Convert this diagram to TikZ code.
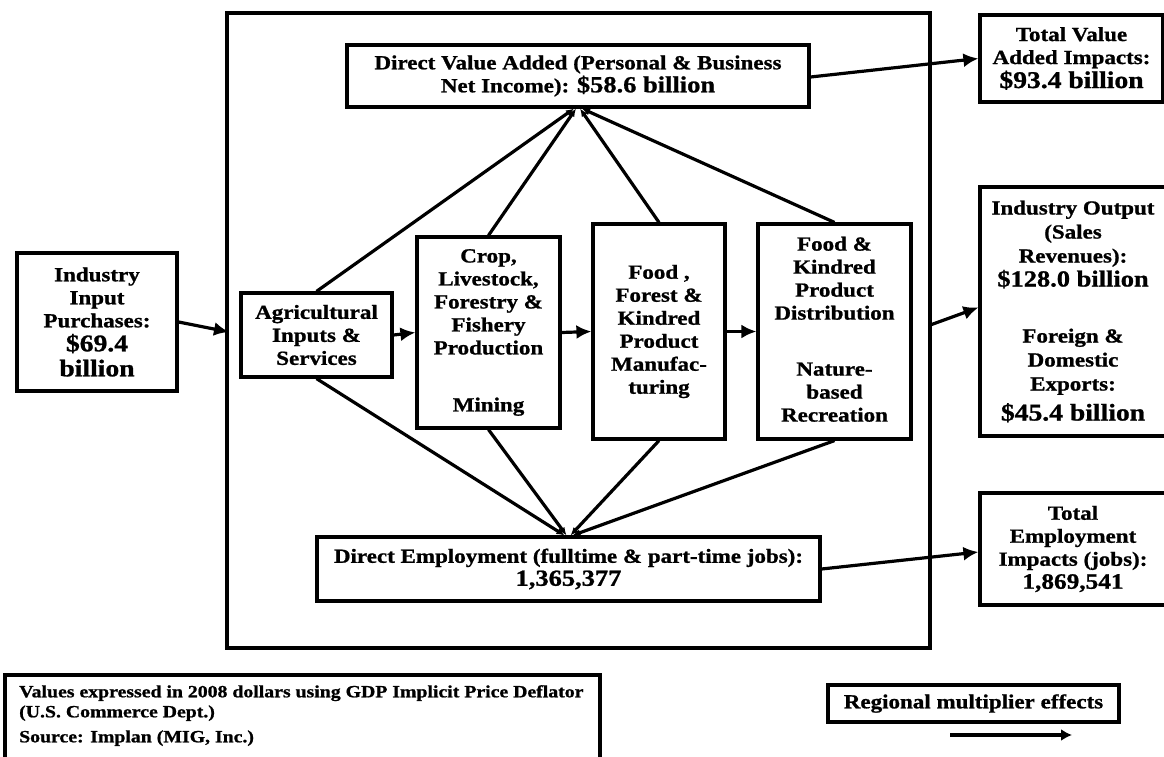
\documentclass[tikz,border=0pt]{standalone}
\usepackage{fontspec}
\setmainfont{Liberation Serif}[FakeStretch=1.15, BoldFeatures={FakeBold=1}]
\usetikzlibrary{arrows.meta,calc}
\begin{document}
\begin{tikzpicture}[x=1pt,y=-1pt,
  box/.style={draw, line width=3.2pt, align=center, inner sep=0pt,
    font=\bfseries\fontsize{20}{23}\selectfont},
  arr/.style={line width=3.2pt, -{Latex[length=15pt,width=14pt]}},
  sarr/.style={line width=3.2pt, -{Latex[length=8pt,width=7pt]}},
]
\useasboundingbox (0,0) rectangle (1164,757);
\fill[white] (0,0) rectangle (1164,757);

% outer frame
\node[box, minimum width=703pt, minimum height=635pt] (frame) at (578.5,330.5) {};

% nodes
\node[box, minimum width=462pt, minimum height=62pt] (dva) at (578,76)
  {Direct Value Added (Personal \& Business\\Net Income): {\fontsize{23}{25}\selectfont \$58.6 billion}};
\node[box, minimum width=160pt, minimum height=138pt] (input) at (97,322)
  {Industry\\Input\\Purchases:\\[1pt]{\fontsize{24}{26}\selectfont \$69.4}\\[2pt]{\fontsize{24}{26}\selectfont billion}};
\node[box, minimum width=151pt, minimum height=84pt] (ag) at (316.5,335)
  {Agricultural\\Inputs \&\\Services};
\node[box, minimum width=143pt, minimum height=191pt] (crop) at (488.5,332.5)
  {Crop,\\Livestock,\\Forestry \&\\Fishery\\Production\\[34pt]Mining};
\node[box, minimum width=132pt, minimum height=215pt] (food) at (659,331.5)
  {Food ,\\Forest \&\\Kindred\\Product\\Manufac-\\turing};
\node[box, minimum width=153pt, minimum height=215pt] (dist) at (834.5,331.5)
  {\raisebox{4pt}{\begin{tabular}{@{}c@{}}Food \&\\Kindred\\Product\\Distribution\\[33pt]Nature-\\based\\Recreation\end{tabular}}};
\node[box, minimum width=503pt, minimum height=64pt] (emp) at (568.5,569)
  {Direct Employment (fulltime \& part-time jobs):\\{\fontsize{23}{25}\selectfont 1,365,377}};

\node[box, minimum width=183pt, minimum height=87pt] (tva) at (1071.5,58.5)
  {Total Value\\Added Impacts:\\[1pt]{\fontsize{24}{25}\selectfont \$93.4 billion}};
\node[box, minimum width=186pt, minimum height=249pt, font=\bfseries\fontsize{20}{24}\selectfont] (out) at (1073,311.5)
  {Industry Output\\(Sales\\Revenues):\\{\fontsize{23}{25}\selectfont \$128.0 billion}\\[32pt]Foreign \&\\Domestic\\Exports:\\[6pt]{\fontsize{24}{25}\selectfont \$45.4 billion}};
\node[box, minimum width=186pt, minimum height=112pt] (temp) at (1073,549)
  {Total\\Employment\\Impacts (jobs):\\{\fontsize{22}{24}\selectfont 1,869,541}};

% footnote
\node[box, minimum width=595pt, minimum height=100pt] (foot) at (302.5,725) {};
\node[anchor=north west, inner sep=0pt, align=left,
  font=\bfseries\fontsize{17.2}{20}\selectfont] (foottext) at (19,685)
  {Values expressed in 2008 dollars using GDP Implicit Price Deflator\\(U.S. Commerce Dept.)\\[5pt]Source: Implan (MIG, Inc.)};

% legend
\node[box, minimum width=291pt, minimum height=37pt] (reg) at (973.5,703.5)
  {Regional multiplier effects};
\coordinate (legA) at (950,735);
\coordinate (legB) at (1072,735);
\draw[line width=3.2pt, -{Latex[length=11pt,width=12pt]}] (legA) -- (legB);

% chain
\coordinate (inEnd) at (229,332);
\draw[arr] (input.east) -- (inEnd);
\draw[arr] (ag.east) -- (crop.west);
\draw[arr] (crop.east) -- (food.west);
\draw[arr] (food.east) -- (dist.west);

% to value added
\draw[sarr] (ag.north) -- ([xshift=-4pt]dva.south);
\draw[sarr] (crop.north) -- ([xshift=-2pt]dva.south);
\draw[sarr] (food.north) -- ([xshift=2pt]dva.south);
\draw[sarr] (dist.north) -- ([xshift=4pt]dva.south);

% to employment
\draw[sarr] (ag.south) -- ([xshift=-4pt]emp.north);
\draw[sarr] (crop.south) -- ([xshift=-2pt]emp.north);
\draw[sarr] (food.south) -- ([xshift=2pt]emp.north);
\draw[sarr] (dist.south) -- ([xshift=4pt]emp.north);

% regional multipliers
\draw[arr] ([yshift=-1pt]dva.east) -- (tva.west);
\draw[arr] ([yshift=6pt]frame.east) -- ([yshift=4pt]out.west);
\draw[arr] (emp.east) -- ([yshift=-3pt]temp.west);
\end{tikzpicture}
\end{document}
